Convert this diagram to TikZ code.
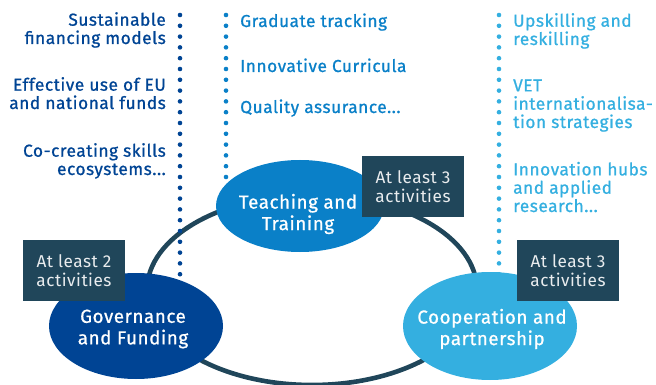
\documentclass[tikz,border=0pt]{standalone}
\usepackage{fontspec}
\setmainfont{Fira Sans}
\newfontfamily\medfont{Fira Sans}[FakeBold=0.9, LetterSpace=3]
\newfontfamily\boxfont{Fira Sans}[LetterSpace=3]
\usetikzlibrary{calc,backgrounds,shapes.geometric}
\definecolor{eublue}{HTML}{004494}
\definecolor{teachblue}{HTML}{0A80C8}
\definecolor{skyblue}{HTML}{34AFE0}
\definecolor{slate}{HTML}{20465A}
\tikzset{
  area/.style={ % coloured ellipse of one field
    ellipse, inner sep=0pt, draw=none
  },
  areatext/.style={
    text=white, align=center, inner sep=0pt,
    font=\medfont\fontsize{18.8}{21.5}\selectfont
  },
  countbox/.style={ % dark box with the number of activities
    rectangle, fill=slate, text=white!90!slate, align=center,
    minimum width=102pt, minimum height=61pt, inner sep=0pt,
    font=\boxfont\fontsize{17.2}{18.5}\selectfont
  },
  item/.style={
    inner sep=0pt, font=\medfont\fontsize{17.3}{18.3}\selectfont
  },
  dots/.style={
    line width=4.6pt, line cap=round, dash pattern=on 0pt off 10.8pt
  }
}
\begin{document}
\begin{tikzpicture}[x=1pt, y=-1pt]
  \useasboundingbox (0,0) rectangle (656,385);

  % the three fields
  \node[area, fill=teachblue, minimum width=168pt, minimum height=92pt] (teach) at (300,206) {};
  \node[area, fill=eublue, minimum width=174pt, minimum height=106pt] (gov) at (136,326) {};
  \node[area, fill=skyblue, minimum width=174pt, minimum height=108pt] (coop) at (490,326) {};
  \node[areatext] (teach text) at ($(teach)+(-2,8)$) {Teaching and\\Training};
  \node[areatext] (gov text) at ($(gov)+(-3,3)$) {Governance\\and Funding};
  \node[areatext] (coop text) at ($(coop)+(2,3)$) {Cooperation and\\partnership};

  % number of activities
  \node[countbox] (teach count) at (413,186.5) {At least 3\\activities};
  \node[countbox] (gov count) at (74,270.5) {At least 2\\activities};
  \node[countbox] (coop count) at (568,270.5) {At least 3\\activities};

  % topics of each field (base = last line)
  \node[item, text=eublue, align=right, anchor=base east] (gov a) at (166,44) {Sustainable\\financing models};
  \node[item, text=eublue, align=right, anchor=base east] (gov b) at (166,109) {Effective use of EU\\and national funds};
  \node[item, text=eublue, align=right, anchor=base east] (gov c) at (166,175) {Co-creating skills\\ecosystems...};
  \node[item, text=teachblue, anchor=base west] (teach a) at (240,27) {Graduate tracking};
  \node[item, text=teachblue, anchor=base west] (teach b) at (240,72) {Innovative Curricula};
  \node[item, text=teachblue, anchor=base west] (teach c) at (240,113) {Quality assurance...};
  \node[item, text=skyblue, align=left, anchor=base west] (coop a) at (513,45) {Upskilling and\\reskilling};
  \node[item, text=skyblue, align=left, anchor=base west] (coop b) at (513,128) {VET\\internationalisa-\\tion strategies};
  \node[item, text=skyblue, align=left, anchor=base west] (coop c) at (513,212) {Innovation hubs\\and applied\\research...};

  \coordinate (gov top) at (180,15);
  \coordinate (teach top) at (226,15);
  \coordinate (coop top) at (499,15);

  \begin{scope}[on background layer]
    \node[ellipse, draw=slate, line width=4.6pt, minimum width=330pt, minimum height=190pt] (ring) at (312,290) {};
    \draw[dots, eublue] (gov top) -- (gov top |- gov);
    \draw[dots, teachblue] (teach top) -- (teach top |- teach);
    \draw[dots, skyblue] (coop top) -- (coop top |- coop);
  \end{scope}
\end{tikzpicture}
\end{document}
